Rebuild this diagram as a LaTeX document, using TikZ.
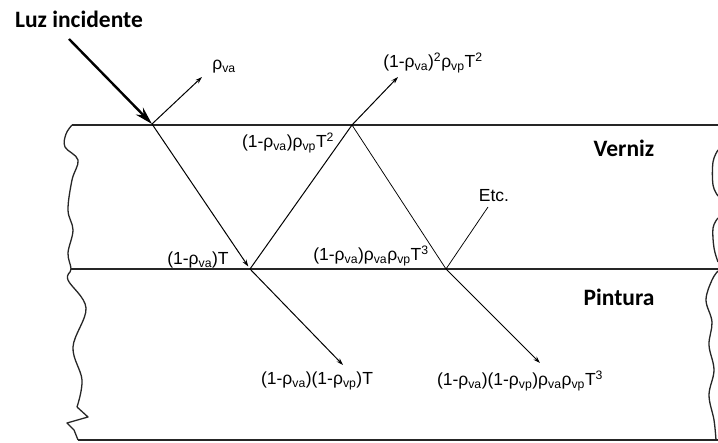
\documentclass[tikz,border=0pt]{standalone}
\usepackage{fontspec}
\setmainfont{Liberation Sans}
\newfontfamily\titlefont{Carlito}
\usetikzlibrary{arrows.meta}
\newcommand\rv[1]{ρ\textsubscript{#1}}
\tikzset{
  lbl/.style={inner sep=0pt, font=\fontsize{17.5}{20}\selectfont},
  big/.style={inner sep=0pt, font=\titlefont\bfseries\fontsize{23.5}{26}\selectfont},
  layer/.style={line width=1.3pt, draw=black!85},
  edge/.style={line width=1.3pt, draw=black!85, smooth, tension=0.6},
  ray/.style={line width=1pt},
  thinray/.style={line width=0.75pt},
  tip/.style={-{Stealth[length=7pt,width=4.5pt]}},
}
\begin{document}
\begin{tikzpicture}[x=1pt,y=-1pt]
\useasboundingbox[fill=white] (0,0) rectangle (718,443);
% points
\coordinate (inc) at (69,39);
\coordinate (A) at (152,124);
\coordinate (B) at (250,269);
\coordinate (C) at (352,125);
\coordinate (D) at (446,269);
\coordinate (r1) at (202,77);
\coordinate (r2) at (398,77);
\coordinate (t1) at (343,365);
\coordinate (t2) at (540,363);
\coordinate (etc) at (488,207);
\coordinate (TL) at (72,125);
\coordinate (TR) at (718,125);
\coordinate (ML) at (71,269);
\coordinate (MR) at (718,269);
\coordinate (BL) at (78,440);
\coordinate (BR) at (718,440);
% layers
\draw[layer] (TL) -- (TR);
\draw[layer] (ML) -- (MR);
\draw[layer] (BL) -- (BR);
% left wavy edge
\draw[edge] plot coordinates {(72,125) (66,134) (65,147) (78,160) (72,180) (68,210) (73,230) (68,253) (71,269) (68,280) (86,308) (73,347) (82,380) (77,407)};
\draw[layer, line join=round] (77,407) -- (88,417) -- (67,423) -- (74,430) -- (78,440);
% right wavy edge
\draw[edge] plot coordinates {(718,150) (713,162) (713,185) (718,196)};
\draw[edge] plot coordinates {(718,218) (713,228) (714,248) (718,262)};
\draw[edge] plot coordinates {(718,271) (712,280) (706,300) (712,322) (709,345) (714,370) (709,395) (714,420) (716,440)};
% rays
\draw[line width=2.4pt, -{Stealth[length=18pt,width=10pt]}] (inc) -- (A);
\draw[ray, tip] (A) -- (r1);
\draw[ray, tip, shorten >=3pt] (A) -- (B);
\draw[ray, tip] (B) -- (t1);
\draw[ray] (B) -- (C);
\draw[ray, tip] (C) -- (r2);
\draw[thinray] (C) -- (D);
\draw[thinray] (D) -- (etc);
\draw[thinray, tip] (D) -- (t2);
% labels
\node[big] (luz) at (79,19) {Luz incidente};
\node[big] (verniz) at (624,148) {Verniz};
\node[big] (pintura) at (619,297) {Pintura};
\node[lbl] (l1) at (224,67) {\rv{va}};
\node[lbl] (l2) at (433,63) {(1-\rv{va})\textsuperscript{2}\rv{vp}T\textsuperscript{2}};
\node[lbl] (l3) at (288,143) {(1-\rv{va})\rv{vp}T\textsuperscript{2}};
\node[lbl] (l4) at (198,260) {(1-\rv{va})T};
\node[lbl] (l5) at (371,256) {(1-\rv{va})\rv{va}\rv{vp}T\textsuperscript{3}};
\node[lbl] (l6) at (494,196) {Etc.};
\node[lbl] (l7) at (317,381) {(1-\rv{va})(1-\rv{vp})T};
\node[lbl] (l8) at (520,381) {(1-\rv{va})(1-\rv{vp})\rv{va}\rv{vp}T\textsuperscript{3}};
\end{tikzpicture}
\end{document}
